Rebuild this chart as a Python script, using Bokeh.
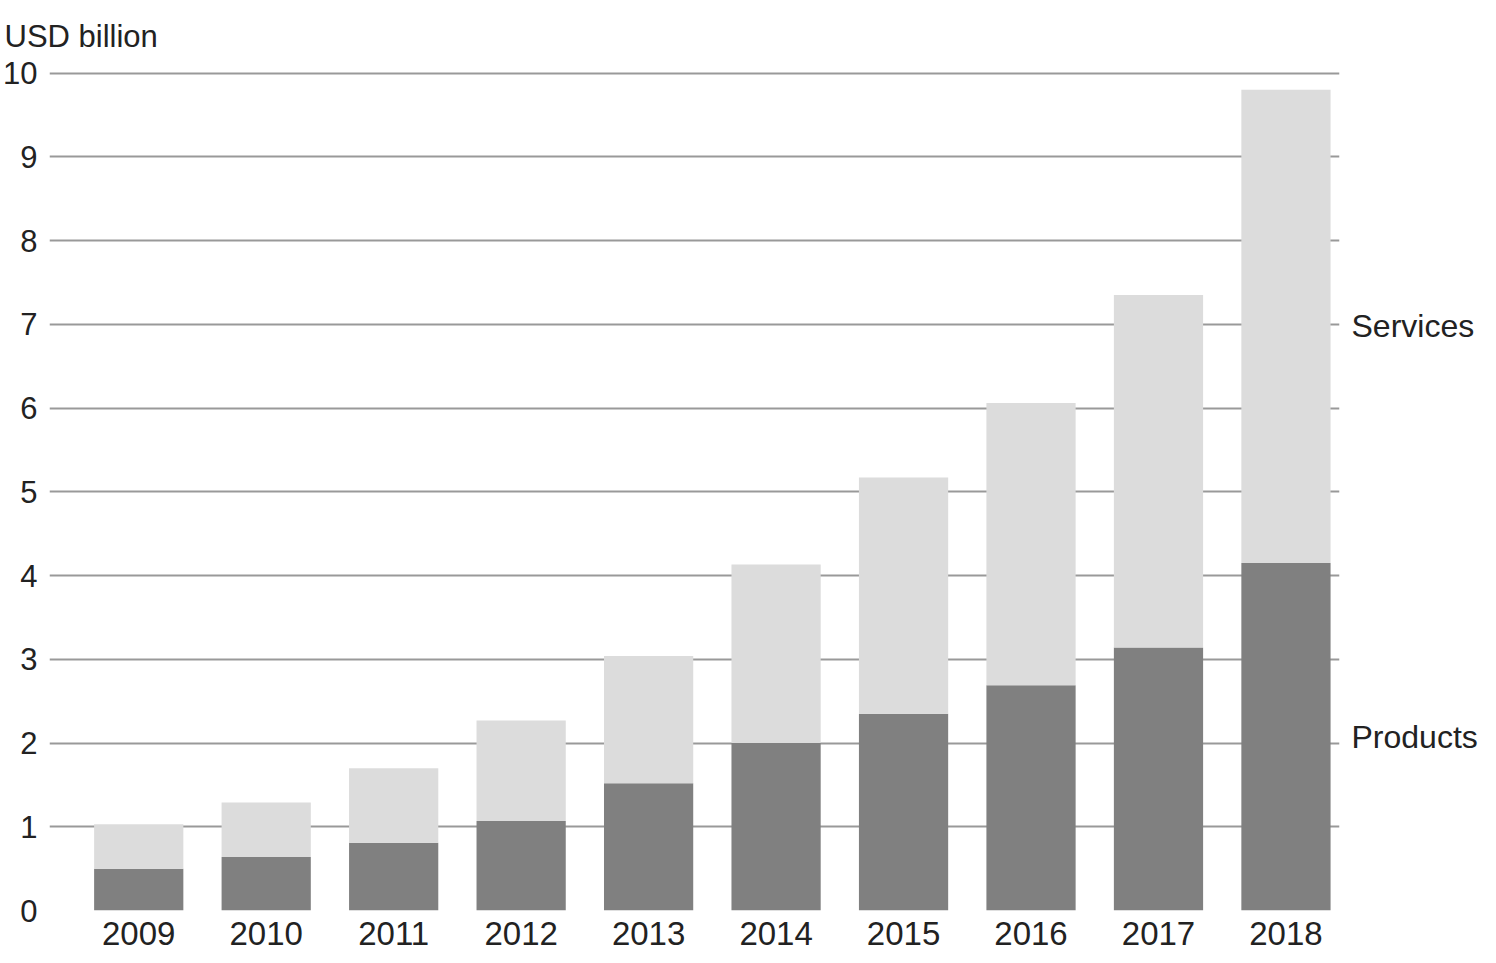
from bokeh.models import ColumnDataSource, Range1d, FixedTicker, LinearAxis
from bokeh.plotting import figure
from bokeh.embed import file_html
from bokeh.resources import INLINE

years = [2009, 2010, 2011, 2012, 2013, 2014, 2015, 2016, 2017, 2018]
products = [0.50, 0.64, 0.81, 1.07, 1.52, 2.00, 2.35, 2.69, 3.14, 4.15]
totals = [1.03, 1.29, 1.70, 2.27, 3.04, 4.13, 5.17, 6.06, 7.35, 9.80]
services = [round(t - pr, 2) for t, pr in zip(totals, products)]
y_ticks = [0, 1, 2, 3, 4, 5, 6, 7, 8, 9, 10]

FONT = "Liberation Sans"
TEXT = "#222222"

source = ColumnDataSource(data=dict(year=years, Products=products, Services=services))

p = figure(width=1480, height=947, output_backend="svg", toolbar_location=None,
           x_range=Range1d(2008.30, 2018.42), y_range=Range1d(0, 10.03),
           title="USD billion", min_border=0)
p.outline_line_color = None
p.title.align = "left"
p.title.offset = -45
p.title.standoff = 33
p.title.text_font = FONT
p.title.text_font_size = "31px"
p.title.text_font_style = "normal"
p.title.text_color = TEXT

p.vbar_stack(["Products", "Services"], x="year", width=0.7, source=source,
             color=["#808080", "#dcdcdc"], line_color=None)

p.xgrid.grid_line_color = None
p.ygrid.grid_line_color = "#999999"
p.ygrid.grid_line_width = 2
p.ygrid.ticker = FixedTicker(ticks=y_ticks)

p.yaxis.ticker = FixedTicker(ticks=y_ticks)
p.yaxis.axis_line_color = None
p.yaxis.major_tick_line_color = None
p.yaxis.minor_tick_line_color = None
p.yaxis.major_label_standoff = 6
p.yaxis.major_label_text_font = FONT
p.yaxis.major_label_text_font_size = "31px"
p.yaxis.major_label_text_color = TEXT

p.xaxis.ticker = FixedTicker(ticks=years)
p.xaxis.axis_line_color = None
p.xaxis.major_tick_line_color = None
p.xaxis.minor_tick_line_color = None
p.xaxis.major_label_standoff = 5
p.xaxis.major_label_text_font = FONT
p.xaxis.major_label_text_font_size = "33px"
p.xaxis.major_label_text_color = TEXT

# series names beside the last bar, as a right-hand axis
last = len(years) - 1
services_mid = products[last] + services[last] / 2
products_mid = products[last] / 2
names = LinearAxis(ticker=FixedTicker(ticks=[products_mid, services_mid]),
                   major_label_overrides={products_mid: "Products", services_mid: "Services"})
names.axis_line_color = None
names.major_tick_line_color = None
names.minor_tick_line_color = None
names.major_label_standoff = 6
names.major_label_text_font = FONT
names.major_label_text_font_size = "32px"
names.major_label_text_color = TEXT
p.add_layout(names, "right")

open("out.html", "w").write(file_html(p, INLINE))
